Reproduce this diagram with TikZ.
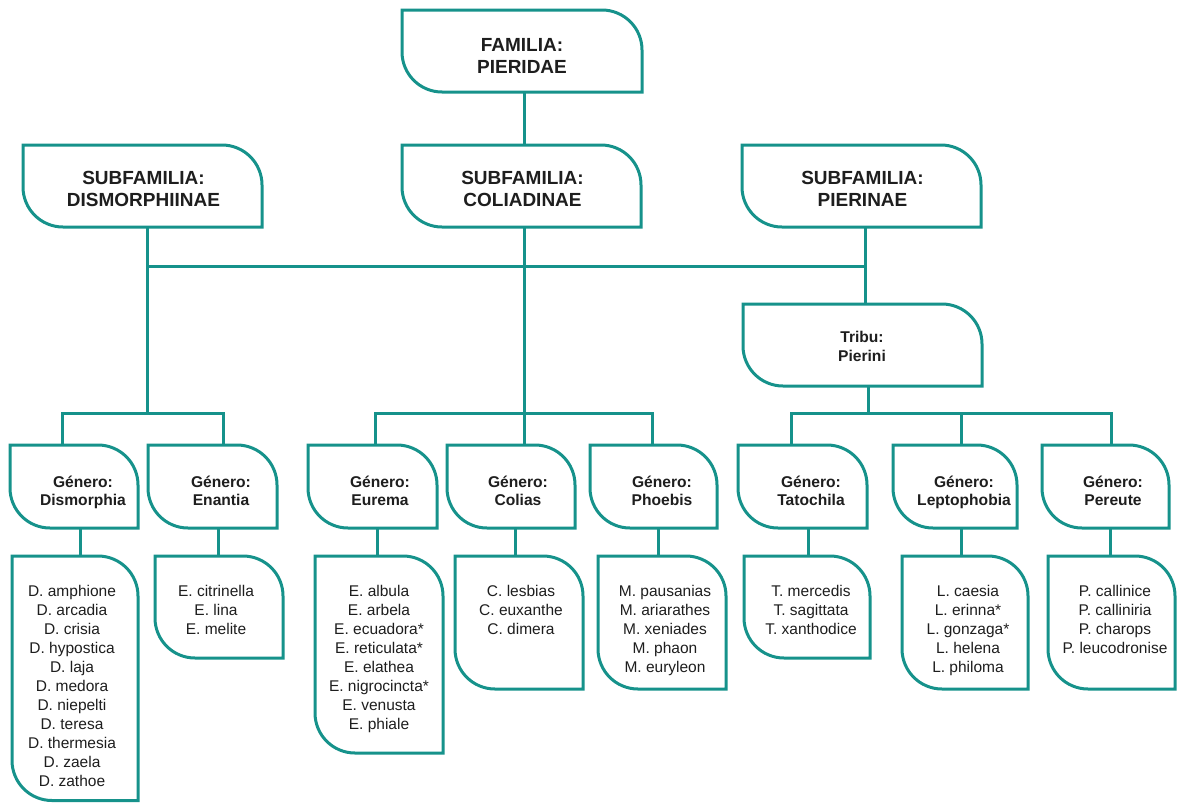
\documentclass[tikz,border=0pt]{standalone}
\usepackage{fontspec}
\setmainfont{Liberation Sans}
\definecolor{teal1}{RGB}{22,146,139}
\definecolor{ink}{RGB}{30,30,30}
\newcommand\fl{\rule{0pt}{20pt}}
\newcommand\rr{40pt}
\tikzset{
  tline/.style={draw=teal1, line width=3pt},
  frame/.style={draw=none, inner sep=0pt, outer sep=0pt, rectangle},
  head/.style={anchor=north, inner sep=0pt, align=center, text=ink, font=\fontsize{19}{22.5}\selectfont\bfseries},
  gtxt/.style={anchor=north, inner sep=0pt, align=center, text=ink, font=\fontsize{15.6}{18}\selectfont\bfseries},
  ttxt/.style={anchor=north, inner sep=0pt, align=center, text=ink, font=\fontsize{15.6}{19}\selectfont\bfseries},
  stxt/.style={anchor=north, inner sep=0pt, align=center, text=ink, font=\fontsize{15.5}{19}\selectfont},
}
\newcommand\leaf[5]{%
  \node[frame, minimum width={(#4)-(#2)}, minimum height={(#5)-(#3)}] (#1) at ({((#2)+(#4))/2},{((#3)+(#5))/2}) {};
  \draw[tline] (#1.north west) -- ([xshift=-\rr]#1.north east) arc[start angle=90,end angle=0,radius=\rr] -- (#1.south east) -- ([xshift=\rr]#1.south west) arc[start angle=-90,end angle=-180,radius=\rr] -- cycle;
}
\begin{document}
\begin{tikzpicture}[x=1pt,y=-1pt]
\useasboundingbox[fill=white] (0,0) rectangle (1182,803);
% boxes
\leaf{fam}{402}{10}{642}{92}
\leaf{sub1}{23}{145}{262}{227}
\leaf{sub2}{402}{145}{641}{227}
\leaf{sub3}{742}{145}{981}{227}
\leaf{trib}{743}{304}{982}{386}
\leaf{g1}{10}{445}{138}{528}
\leaf{g2}{148}{445}{277}{528}
\leaf{g3}{308}{445}{437}{528}
\leaf{g4}{447}{445}{575}{528}
\leaf{g5}{590}{445}{717}{528}
\leaf{g6}{738}{445}{867}{528}
\leaf{g7}{893}{445}{1017}{528}
\leaf{g8}{1042}{445}{1169}{528}
\leaf{sp1}{12}{556}{138}{800.5}
\leaf{sp2}{155}{556}{283}{658}
\leaf{sp3}{315}{556}{443}{753}
\leaf{sp4}{455}{556}{583}{689}
\leaf{sp5}{598}{556}{726}{689}
\leaf{sp6}{744}{556}{870}{658}
\leaf{sp7}{902}{556}{1028}{689}
\leaf{sp8}{1048}{556}{1175}{689}
% junction coordinates
\coordinate (hA) at (147,266);
\coordinate (hB) at (524,266);
\coordinate (hC) at (865,266);
\coordinate (jD) at (147,413);
\coordinate (jC) at (524,413);
\coordinate (jP) at (868,413);
\coordinate (d1) at (62,413);
\coordinate (d2) at (223,413);
\coordinate (d3) at (375,413);
\coordinate (d5) at (652,413);
\coordinate (d6) at (791,413);
\coordinate (d7) at (961,413);
\coordinate (d8) at (1111,413);
\coordinate (s1) at (80,540);
\coordinate (s2) at (218,540);
\coordinate (s3) at (377,540);
\coordinate (s4) at (515,540);
\coordinate (s5) at (658,540);
\coordinate (s6) at (808,540);
\coordinate (s7) at (961,540);
\coordinate (s8) at (1110,540);
% connectors
\draw[tline] (fam.south -| hB) -- (sub2.north -| hB);
\draw[tline] (sub1.south -| hA) -- (jD);
\draw[tline] (hA) -- (hC);
\draw[tline] (sub2.south -| hB) -- (jC);
\draw[tline] (sub3.south -| hC) -- (trib.north -| hC);
\draw[tline] (trib.south -| jP) -- (jP);
\draw[tline] (g1.north -| d1) -- (d1) -- (d2) -- (g2.north -| d2);
\draw[tline] (g3.north -| d3) -- (d3) -- (d5) -- (g5.north -| d5);
\draw[tline] (jC) -- (g4.north -| jC);
\draw[tline] (g6.north -| d6) -- (d6) -- (d8) -- (g8.north -| d8);
\draw[tline] (d7) -- (g7.north -| d7);
\foreach \i in {1,...,8}{
  \draw[tline] (g\i.south -| s\i) -- (sp\i.north -| s\i);
}
% texts
\node[head] (famt) at (522,31) {\fl FAMILIA:\\PIERIDAE};
\node[head] (sub1t) at (143.5,164) {\fl SUBFAMILIA:\\DISMORPHIINAE};
\node[head] (sub2t) at (522.5,164) {\fl SUBFAMILIA:\\COLIADINAE};
\node[head] (sub3t) at (862.5,164) {\fl SUBFAMILIA:\\PIERINAE};
\node[ttxt] (tribt) at (862,322) {\fl Tribu:\\Pierini};
\node[gtxt] (g1t) at (83,467) {\fl Género:\\Dismorphia};
\node[gtxt] (g2t) at (221,467) {\fl Género:\\Enantia};
\node[gtxt] (g3t) at (380,467) {\fl Género:\\Eurema};
\node[gtxt] (g4t) at (518,467) {\fl Género:\\Colias};
\node[gtxt] (g5t) at (662,467) {\fl Género:\\Phoebis};
\node[gtxt] (g6t) at (811,467) {\fl Género:\\Tatochila};
\node[gtxt] (g7t) at (964,467) {\fl Género:\\Leptophobia};
\node[gtxt] (g8t) at (1113,467) {\fl Género:\\Pereute};
\node[stxt] (sp1t) at (72,576) {\fl D. amphione\\D. arcadia\\D. crisia\\D. hypostica\\D. laja\\D. medora\\D. niepelti\\D. teresa\\D. thermesia\\D. zaela\\D. zathoe};
\node[stxt] (sp2t) at (216,576) {\fl E. citrinella\\E. lina\\E. melite};
\node[stxt] (sp3t) at (379,576) {\fl E. albula\\E. arbela\\E. ecuadora*\\E. reticulata*\\E. elathea\\E. nigrocincta*\\E. venusta\\E. phiale};
\node[stxt] (sp4t) at (521,576) {\fl C. lesbias\\C. euxanthe\\C. dimera};
\node[stxt] (sp5t) at (665,576) {\fl M. pausanias\\M. ariarathes\\M. xeniades\\M. phaon\\M. euryleon};
\node[stxt] (sp6t) at (811,576) {\fl T. mercedis\\T. sagittata\\T. xanthodice};
\node[stxt] (sp7t) at (968,576) {\fl L. caesia\\L. erinna*\\L. gonzaga*\\L. helena\\L. philoma};
\node[stxt] (sp8t) at (1115,576) {\fl P. callinice\\P. calliniria\\P. charops\\P. leucodronise};
\end{tikzpicture}
\end{document}
